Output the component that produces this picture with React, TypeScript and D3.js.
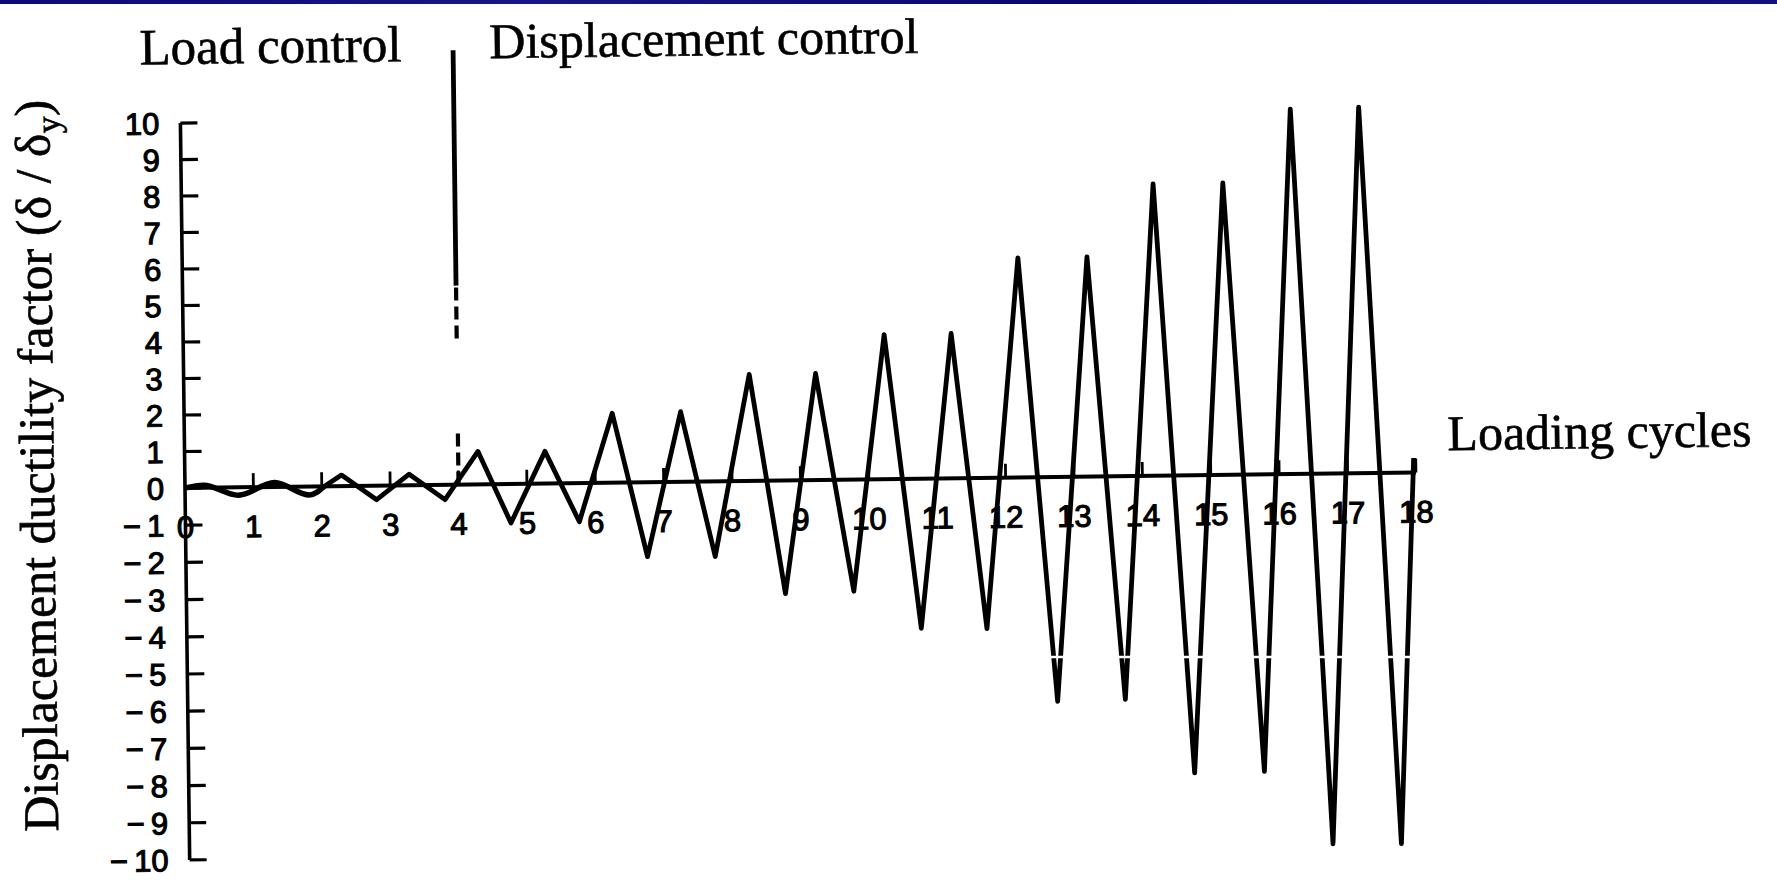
import * as d3 from 'd3';

// ---- data ----
const cycleTicks = [0, 1, 2, 3, 4, 5, 6, 7, 8, 9, 10, 11, 12, 13, 14, 15, 16, 17, 18];
const ductilityTicks = [10, 9, 8, 7, 6, 5, 4, 3, 2, 1, 0, -1, -2, -3, -4, -5, -6, -7, -8, -9, -10];

// load control: small wavy cycles (cycle, ductility)
const loadCycles = [0, 0.27, 0.78, 1.31, 1.82, 2.04];
const loadValues = [0, 0.07, -0.21, 0.12, -0.23, 0];

// triangular history, peaks and troughs
const histCycles = [2.04, 2.29, 2.8, 3.28, 3.8, 4.29, 4.76, 5.27, 5.76, 6.26, 6.75, 7.26, 7.74, 8.27, 8.76,
    9.24, 9.76, 10.25, 10.74, 11.23, 11.7, 12.22, 12.72, 13.23, 13.71, 14.21, 14.71, 15.23, 15.73,
    16.23, 16.72, 17.23, 17.72, 17.97];
const histValues = [0, 0.3, -0.38, 0.3, -0.4, 0.9, -1.05, 0.88, -1.04, 1.9, -2.0, 1.92, -2.02, 2.92, -3.04,
    2.92, -3.0, 3.96, -4.02, 3.97, -4.05, 6.02, -6.03, 6.02, -6.0, 8.0, -8.0, 8.0, -7.98,
    10.0, -9.95, 10.03, -9.97, 0.4];

// boundary between load control and displacement control
const boundaryCycle = 4;
const boundarySolid = [5.45, 11.9];
const boundaryDashed = [[4.0, 5.45], [0, 1.5]];

const W = 1777;
const H = 880;

export default function App() {
    // scales (the scanned axis is a little uneven above / below zero)
    const x = d3.scaleLinear().domain([0, 18]).range([185, 1416]);
    const y = d3.scaleLinear().domain([-10, 0, 10]).range([860, 488, 123]);

    const line = d3.line<[number, number]>()
        .x(d => x(d[0]))
        .y(d => y(d[1]));
    const smooth = d3.line<[number, number]>()
        .x(d => x(d[0]))
        .y(d => y(d[1]))
        .curve(d3.curveMonotoneX);

    const loadPts = loadCycles.map((c, i) => [c, loadValues[i]] as [number, number]);
    const histPts = histCycles.map((c, i) => [c, histValues[i]] as [number, number]);

    const x0 = x(0);
    const y0 = y(0);
    const serif = '"Liberation Serif", "Times New Roman", serif';
    const sans = '"Liberation Sans", Arial, sans-serif';
    const fmt = (v: number) => (v < 0 ? '\u2212\u2009' + Math.abs(v) : String(v));

    return (
        <svg width={W} height={H} style={{ position: 'absolute', left: 0, top: 0, background: '#fff' }}>
            <defs>
                <linearGradient id="band" x1="0" x2="1" y1="0" y2="0">
                    <stop offset="0" stopColor="#0a0a78" />
                    <stop offset="0.3" stopColor="#16168a" />
                    <stop offset="0.6" stopColor="#08086e" />
                    <stop offset="1" stopColor="#12127f" />
                </linearGradient>
            </defs>
            <rect x={0} y={0} width={W} height={H} fill="#fff" />
            <rect x={0} y={0} width={W} height={4} fill="url(#band)" />

            {/* whole scanned figure sits slightly tilted */}
            <g transform={`rotate(-0.72, ${x0}, ${y0})`}>
                {/* y axis */}
                <line x1={x0} x2={x0} y1={y(10)} y2={y(-10)} stroke="#000" strokeWidth={3.6} />
                {ductilityTicks.map(t => (
                    <g key={'yt' + t}>
                        <line x1={x0} x2={x0 + 17} y1={y(t)} y2={y(t)} stroke="#000" strokeWidth={3.2} />
                        <text x={x0 - 21} y={y(t)} dy="0.36em" textAnchor="end" fontFamily={sans}
                            fontSize={31} stroke="#000" strokeWidth={1.1}>{fmt(t)}</text>
                    </g>
                ))}

                {/* x axis */}
                <line x1={x0} x2={x(18)} y1={y0} y2={y0} stroke="#000" strokeWidth={4} />
                {cycleTicks.filter(t => t > 0).map(t => (
                    <line key={'xt' + t} x1={x(t)} x2={x(t)} y1={y0} y2={y0 - 14} stroke="#000" strokeWidth={2.8} />
                ))}
                {cycleTicks.map(t => (
                    <text key={'xl' + t} x={x(t)} y={y0 + 50} textAnchor="middle" fontFamily={sans}
                        fontSize={31} stroke="#000" strokeWidth={1.1}>{t}</text>
                ))}

                {/* loading history */}
                <path d={smooth(loadPts) || ''} fill="none" stroke="#000" strokeWidth={5.5} strokeLinejoin="round" />
                <path d={line(histPts) || ''} fill="none" stroke="#000" strokeWidth={4.8} strokeLinejoin="round" />

                {/* control boundary */}
                <line x1={x(boundaryCycle)} x2={x(boundaryCycle)} y1={y(boundarySolid[0])} y2={y(boundarySolid[1])}
                    stroke="#000" strokeWidth={4.8} />
                {boundaryDashed.map((s, i) => (
                    <line key={'bd' + i} x1={x(boundaryCycle)} x2={x(boundaryCycle)} y1={y(s[0])} y2={y(s[1])}
                        stroke="#000" strokeWidth={4.2} strokeDasharray="13 6" />
                ))}

                {/* annotations */}
                <g fontFamily={serif} stroke="#000" strokeWidth={0.6}>
                    <text x={145} y={64} fontSize={51}>Load control</text>
                    <text x={495} y={62} fontSize={50}>Displacement control</text>
                    <text x={1448} y={466} fontSize={50}>Loading cycles</text>
                    <text transform="translate(54,464) rotate(-90)" textAnchor="middle" fontSize={50}>
                        Displacement ductility factor (δ / δ<tspan fontSize={34} dy={10}>y</tspan><tspan dy={-10}>)</tspan>
                    </text>
                </g>
            </g>

            {/* scan artefact: thin white streak through the deep troughs */}
            <line x1={1040} x2={1425} y1={657} y2={657} stroke="#fff" strokeWidth={2.5} />
        </svg>
    );
}
